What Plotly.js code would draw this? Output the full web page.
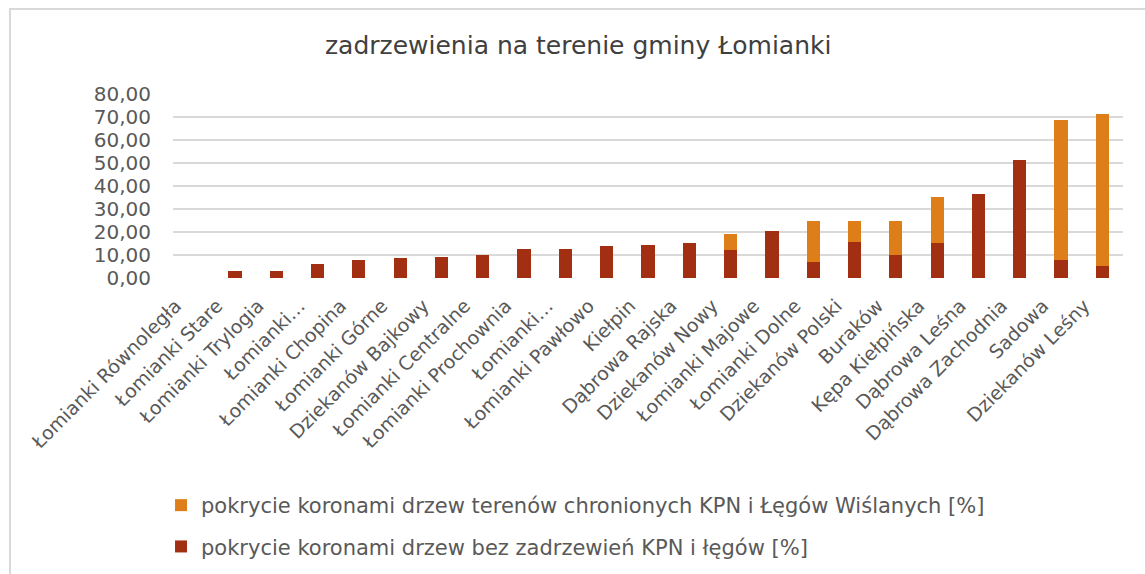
<!DOCTYPE html>
<html>
<head>
<meta charset="utf-8">
<script src="https://cdn.plot.ly/plotly-3.0.1.min.js"></script>
<style>
html,body{margin:0;padding:0;background:#fff;}
#wrap{position:relative;width:1145px;height:574px;overflow:hidden;}
#chart{width:1145px;height:574px;}
#frame{position:absolute;left:9px;top:8px;width:1200px;height:700px;border:2px solid #d9d9d9;pointer-events:none;box-sizing:border-box;}
</style>
</head>
<body>
<div id="wrap"><div id="chart"></div><div id="frame"></div></div>
<script>
const categories = [
  "Łomianki Równoległa", "Łomianki Stare", "Łomianki Trylogia", "Łomianki…",
  "Łomianki Chopina", "Łomianki Górne", "Dziekanów Bajkowy", "Łomianki Centralne",
  "Łomianki Prochownia", "Łomianki…", "Łomianki Pawłowo", "Kiełpin",
  "Dąbrowa Rajska", "Dziekanów Nowy", "Łomianki Majowe", "Łomianki Dolne",
  "Dziekanów Polski", "Buraków", "Kępa Kiełpińska", "Dąbrowa Leśna",
  "Dąbrowa Zachodnia", "Sadowa", "Dziekanów Leśny"
];
const bezKPN = [0.0, 3.0, 3.2, 6.0, 7.7, 8.8, 9.2, 9.9, 12.4, 12.7, 14.0, 14.3,
  15.3, 12.1, 20.5, 7.0, 15.6, 10.2, 15.3, 36.6, 51.1, 8.0, 5.1];
const chronione = [0, 0, 0, 0, 0, 0, 0, 0, 0, 0, 0, 0,
  0, 7.2, 0, 17.9, 9.3, 14.8, 19.8, 0, 0, 60.5, 66.0];
const yTicks = [0, 10, 20, 30, 40, 50, 60, 70, 80];

const idx = categories.map((c, i) => i);
const font = "DejaVu Sans, sans-serif";

const traces = [
  {type: "bar", x: idx, y: bezKPN, name: "pokrycie koronami drzew bez zadrzewień KPN i łęgów [%]",
   marker: {color: "#A32F12"}, legendgroup: "a", legendrank: 2},
  {type: "bar", x: idx, y: chronione, name: "pokrycie koronami drzew terenów chronionych KPN i Łęgów Wiślanych [%]",
   marker: {color: "#DE7E18"}, legendgroup: "b", legendrank: 1}
];

const layout = {
  width: 1145, height: 574,
  paper_bgcolor: "#ffffff", plot_bgcolor: "#ffffff",
  barmode: "stack", bargap: 0.68,
  separators: ",.",
  margin: {l: 173, r: 22, t: 94, b: 295.5, autoexpand: false},
  title: {text: "zadrzewienia na terenie gminy Łomianki", x: 0.505, xanchor: "center", y: 0.922, yanchor: "middle",
          font: {family: font, size: 25, color: "#404040"}},
  xaxis: {
    tickmode: "array", tickvals: idx, ticktext: categories, tickangle: -45,
    range: [-0.5, categories.length - 0.5], automargin: false,
    showgrid: false, zeroline: false, showline: false, ticks: "",
    ticklabelshift: -18, ticklabelstandoff: 12,
    tickfont: {family: font, size: 19, color: "#595959"}
  },
  yaxis: {
    range: [0, 80], tickmode: "array", tickvals: yTicks, tickformat: ".2f", automargin: false,
    showgrid: true, gridcolor: "#d9d9d9", gridwidth: 1.5, zeroline: false, showline: false,
    ticks: "", ticklabelstandoff: 21,
    tickfont: {family: font, size: 20, color: "#595959"}
  },
  showlegend: true,
  legend: {orientation: "v", x: -0.0126, xanchor: "left", y: -1.125, yanchor: "top",
           traceorder: "grouped", tracegroupgap: 11,
           font: {family: font, size: 21, color: "#595959"}, itemwidth: 30}
};

Plotly.newPlot("chart", traces, layout, {displayModeBar: false, staticPlot: true});
</script>
</body>
</html>
